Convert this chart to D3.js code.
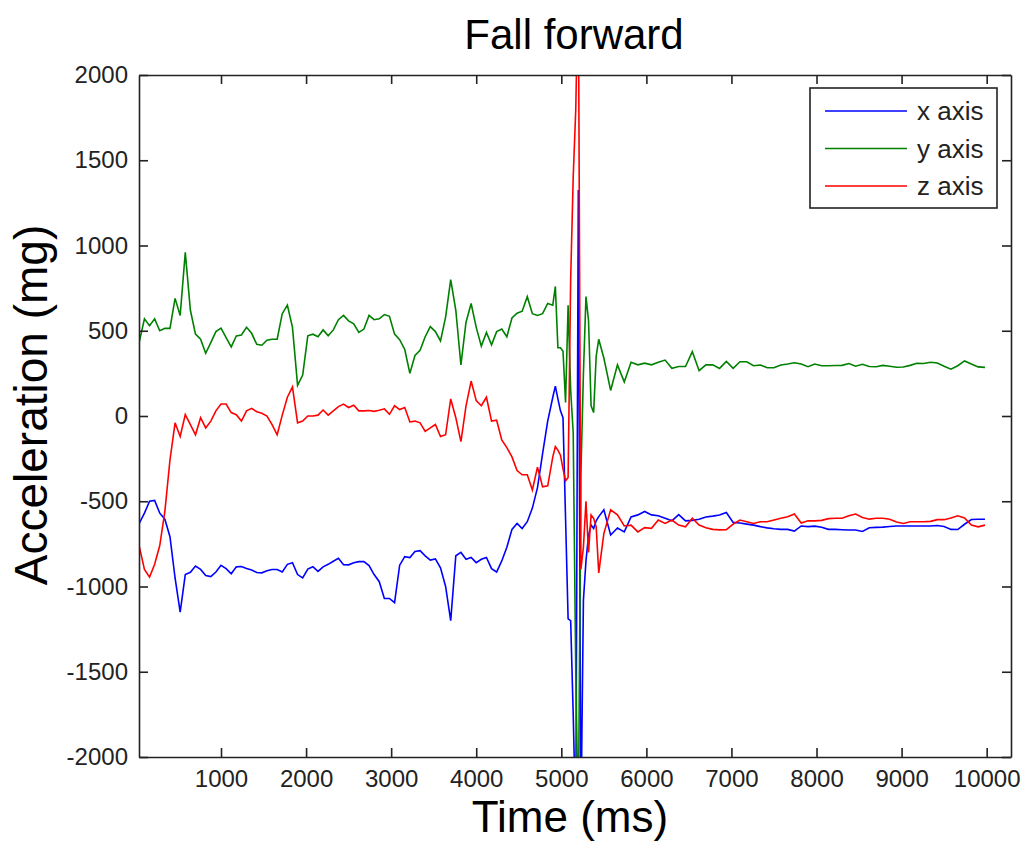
<!DOCTYPE html>
<html>
<head>
<meta charset="utf-8">
<script src="https://cdn.jsdelivr.net/npm/d3@7"></script>
<style>
  body { margin: 0; background: #fff; }
  svg { display: block; font-family: "Liberation Sans", Arial, sans-serif; }
</style>
</head>
<body>
<div id="chart"></div>
<script>
// sample times (ms) - denser around the impact
const timeMs = [
  40, 100, 160, 220, 280, 340, 400, 460, 520, 580,
  640, 700, 760, 820, 880, 940, 1000, 1060, 1120, 1180,
  1240, 1300, 1360, 1420, 1480, 1540, 1600, 1660, 1720, 1780,
  1840, 1900, 1960, 2020, 2080, 2140, 2200, 2260, 2320, 2380,
  2440, 2500, 2560, 2620, 2680, 2740, 2800, 2860, 2920, 2980,
  3040, 3100, 3160, 3220, 3280, 3340, 3400, 3460, 3520, 3580,
  3640, 3700, 3760, 3820, 3880, 3940, 4000, 4060, 4120, 4180,
  4240, 4300, 4360, 4420, 4480, 4540, 4600, 4660, 4720, 4780,
  4840, 4900,
  4930, 4960, 4990, 5020, 5050, 5080, 5110, 5140, 5170, 5200,
  5230, 5260, 5290, 5320, 5350, 5380, 5410, 5440,
  5500, 5580, 5660, 5740, 5820, 5900, 5980, 6060, 6140, 6220,
  6300, 6380, 6460, 6540, 6620, 6700, 6780, 6860, 6940, 7020,
  7100, 7180, 7260, 7340, 7420, 7500, 7580, 7660, 7740, 7820,
  7900, 7980, 8060, 8140, 8220, 8300, 8380, 8460, 8540, 8620,
  8700, 8780, 8860, 8940, 9020, 9100, 9180, 9260, 9340, 9420,
  9500, 9580, 9660, 9740, 9820, 9900, 9980
];

const xAxisValues = [
  -629, -570, -500, -495, -570, -605, -708, -950, -1150, -930,
  -917, -880, -900, -935, -942, -915, -876, -895, -925, -885,
  -883, -895, -903, -918, -920, -908, -900, -900, -915, -870,
  -860, -930, -950, -898, -884, -911, -885, -870, -852, -835,
  -872, -873, -861, -854, -854, -877, -930, -972, -1070, -1070,
  -1095, -875, -825, -830, -795, -790, -820, -845, -838, -890,
  -1000, -1200, -820, -800, -840, -830, -860, -840, -830, -895,
  -915, -850, -770, -665, -630, -660, -620, -540, -420, -220,
  -30, 110,
  175, 100, 30, -10, -600, -1190, -1200, -1750, -2400, 1325,
  -2400, -1080, -850, -700, -640, -660, -615, -590,
  -550, -698, -657, -680, -592, -580, -560, -580, -585, -600,
  -615, -578, -615, -612, -606, -592, -587, -581, -566, -624,
  -628, -634, -640, -649, -656, -661, -665, -665, -675, -645,
  -649, -646, -653, -665, -665, -667, -669, -669, -677, -655,
  -653, -652, -648, -645, -645, -645, -645, -645, -645, -642,
  -648, -665, -666, -635, -607, -606, -606
];

const yAxisValues = [
  436, 570, 530, 570, 500, 515, 514, 690, 590, 960,
  620, 480, 450, 368, 430, 495, 515, 460, 405, 470,
  475, 520, 485, 420, 415, 445, 450, 450, 600, 650,
  520, 180, 240, 470, 480, 465, 505, 470, 505, 565,
  590, 558, 540, 490, 510, 590, 565, 570, 595, 585,
  480, 448, 390, 250, 355, 385, 465, 524, 495, 440,
  580, 800, 620, 300, 550, 660, 520, 410, 490, 417,
  495, 510, 465, 575, 603, 615, 700, 600, 590, 600,
  660, 650,
  760, 400, 400, 380, 80, 650, 152, -100, -1500, -2400,
  -350, 250, 700, 560, 60, 20, 350, 450,
  340, 150, 300, 200, 315, 300, 310, 300, 315, 328,
  280, 290, 290, 377, 266, 300, 300, 279, 320, 279,
  318, 318, 295, 299, 283, 283, 299, 305, 312, 305,
  289, 305, 295, 295, 296, 297, 308, 292, 303, 290,
  289, 297, 292, 286, 287, 297, 309, 308, 315, 311,
  292, 275, 295, 323, 305, 288, 285
];

const zAxisValues = [
  -766, -900, -945, -870, -760, -560, -258, -40, -120, 8,
  -50, -110, -10, -70, -30, 30, 70, 70, 20, 8,
  -30, 30, 45, 25, 16, 0, -50, -110, 5, 110,
  170, -40, -30, 0, 0, 5, 35, 5, 30, 55,
  70, 50, 63, 30, 30, 32, 27, 34, 42, 10,
  60, 38, 50, -35, -30, -40, -90, -70, -50, -120,
  -110, 100, -10, -150, 60, 205, 90, 60, 110, -30,
  -25, -140, -185, -240, -320, -345, -345, -434, -300, -415,
  -410, -240,
  -180, -200, -230, -310, -380, -360, 800, 1400, 1800, 2600,
  -900, -770, -500, -800, -580, -600, -650, -920,
  -690, -550, -580, -645, -640, -680, -655, -659, -610, -630,
  -610, -640, -650, -600, -640, -655, -665, -668, -667, -634,
  -610, -620, -630, -620, -620, -610, -600, -591, -575, -628,
  -615, -615, -612, -602, -600, -600, -585, -575, -595, -605,
  -600, -600, -606, -622, -630, -620, -620, -620, -618, -608,
  -608, -598, -585, -598, -640, -650, -640
];

const seriesNames = ["x axis", "y axis", "z axis"];
const seriesColors = ["#0000ff", "#008000", "#ff0000"];
const xTicks = [1000, 2000, 3000, 4000, 5000, 6000, 7000, 8000, 9000, 10000];
const yTicks = [-2000, -1500, -1000, -500, 0, 500, 1000, 1500, 2000];

const width = 1022, height = 841;
const plot = { left: 139, right: 1011, top: 75, bottom: 757 };

const svg = d3.select("#chart").append("svg")
  .attr("width", width)
  .attr("height", height);

const x = d3.scaleLinear().domain([36, 10286]).range([plot.left, plot.right]);
const y = d3.scaleLinear().domain([-2000, 2000]).range([plot.bottom, plot.top]);

svg.append("clipPath").attr("id", "plot-clip")
  .append("rect")
    .attr("x", plot.left).attr("y", plot.top)
    .attr("width", plot.right - plot.left)
    .attr("height", plot.bottom - plot.top);

// lines
const series = [xAxisValues, yAxisValues, zAxisValues];
const line = d3.line()
  .x((d, i) => x(timeMs[i]))
  .y(d => y(d));

svg.append("g")
  .attr("clip-path", "url(#plot-clip)")
  .selectAll("path")
  .data(series)
  .join("path")
    .attr("fill", "none")
    .attr("stroke", (d, i) => seriesColors[i])
    .attr("stroke-width", 1.6)
    .attr("d", line);

// axes, ticks pointing inwards on all four sides
const tick = 9;
const plain = d => String(d);
const styleAxis = g => {
  g.select(".domain").attr("stroke", "#222").attr("stroke-width", 1.6);
  g.selectAll(".tick line").attr("stroke", "#222").attr("stroke-width", 1.6);
  g.selectAll(".tick text").attr("fill", "#222").style("font-size", "24px");
};

svg.append("g")
  .attr("transform", `translate(0,${plot.bottom})`)
  .call(d3.axisBottom(x).tickValues(xTicks).tickFormat(plain).tickSizeInner(-tick).tickSizeOuter(0).tickPadding(13))
  .call(styleAxis);

svg.append("g")
  .attr("transform", `translate(0,${plot.top})`)
  .call(d3.axisTop(x).tickValues(xTicks).tickSizeInner(-tick).tickSizeOuter(0).tickFormat(""))
  .call(styleAxis);

svg.append("g")
  .attr("transform", `translate(${plot.left},0)`)
  .call(d3.axisLeft(y).tickValues(yTicks).tickFormat(plain).tickSizeInner(-tick).tickSizeOuter(0).tickPadding(11))
  .call(styleAxis);

svg.append("g")
  .attr("transform", `translate(${plot.right},0)`)
  .call(d3.axisRight(y).tickValues(yTicks).tickSizeInner(-tick).tickSizeOuter(0).tickFormat(""))
  .call(styleAxis);

// title and labels
svg.append("text")
  .attr("x", 574).attr("y", 49)
  .attr("text-anchor", "middle")
  .style("font-size", "42px")
  .text("Fall forward");

svg.append("text")
  .attr("x", 570).attr("y", 832)
  .attr("text-anchor", "middle")
  .style("font-size", "44px")
  .text("Time (ms)");

svg.append("text")
  .attr("transform", "translate(47,405) rotate(-90)")
  .attr("text-anchor", "middle")
  .style("font-size", "46px")
  .text("Acceleration (mg)");

// legend
const legend = svg.append("g");
legend.append("rect")
  .attr("x", 810).attr("y", 88)
  .attr("width", 187).attr("height", 120)
  .attr("fill", "#fff")
  .attr("stroke", "#222")
  .attr("stroke-width", 1.6);

const legendY = d3.scalePoint().domain(seriesNames).range([111, 186]);
const items = legend.selectAll("g.item")
  .data(seriesNames)
  .join("g")
    .attr("class", "item")
    .attr("transform", d => `translate(0,${legendY(d)})`);

items.append("line")
  .attr("x1", 825).attr("x2", 907)
  .attr("stroke", (d, i) => seriesColors[i])
  .attr("stroke-width", 1.6);

items.append("text")
  .attr("x", 917).attr("dy", "0.35em")
  .style("font-size", "26px")
  .attr("fill", "#222")
  .text(d => d);
</script>
</body>
</html>
